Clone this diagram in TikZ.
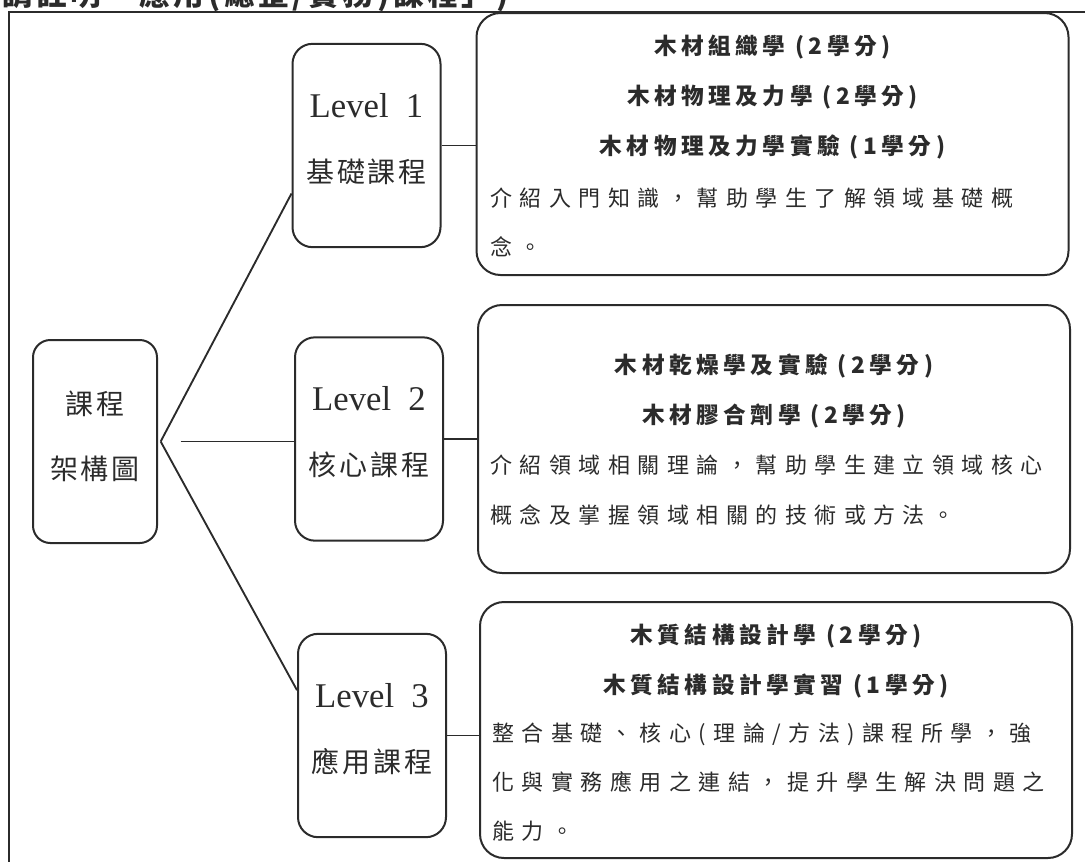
\documentclass[tikz,border=0pt]{standalone}
\usepackage{fontspec}
\setmainfont{Noto Sans CJK TC}
\newfontfamily\levelfont{Liberation Serif}
\usetikzlibrary{positioning, calc}
\definecolor{inkgray}{HTML}{2B2B2B}

\begin{document}
\begin{tikzpicture}[x=0.75pt, y=-0.75pt,
    boxline/.style={draw=inkgray, line width=1.5pt},
    rootbox/.style={boxline, rounded corners=13pt, minimum width=93pt, minimum height=152.25pt},
    levelbox/.style={boxline, rounded corners=15pt, minimum width=111pt, minimum height=152.5pt},
    infobox/.style={boxline, rounded corners=18pt, minimum width=444pt},
    link/.style={draw=inkgray, line width=1.4pt},
    nametext/.style={align=center, text=inkgray, font=\fontsize{21}{48.75}\selectfont\addfontfeature{LetterSpace=10}},
    titletext/.style={align=center, text=inkgray, font=\fontsize{17}{37.5}\selectfont\bfseries\addfontfeature{LetterSpace=20}},
    bodytext/.style={align=left, anchor=west, inner xsep=0pt, text=inkgray, font=\fontsize{16.5}{37}\selectfont\addfontfeature{LetterSpace=34}}]
    \useasboundingbox (0,0) rectangle (1085,861);

    % page header, cut off at the top
    \node[anchor=base west, inner sep=0pt, text=inkgray, font=\fontsize{23}{25}\selectfont\bfseries\addfontfeature{LetterSpace=12}] (header) at (2,5) {請註明「應用(總整/實務)課程」)};
    \draw[draw=inkgray, line width=2pt] (9,12) rectangle (1100,880);

    % left column
    \node[rootbox] (root) at (95,441.5) {};
    \node[nametext] (rootlabel) at (95,436) {課程\\架構圖};

    % levels
    \node[levelbox] (L1) at (366.5,145.5) {};
    \node[levelbox] (L2) at (369,439) {};
    \node[levelbox] (L3) at (372,735.5) {};
    \node[nametext] (L1label) at (366.5,139) {{\levelfont\fontsize{26}{26}\selectfont Level\ \ 1}\\基礎課程};
    \node[nametext] (L2label) at (369,432) {{\levelfont\fontsize{26}{26}\selectfont Level\ \ 2}\\核心課程};
    \node[nametext] (L3label) at (372,729) {{\levelfont\fontsize{26}{26}\selectfont Level\ \ 3}\\應用課程};

    % course boxes
    \node[infobox, minimum height=196.5pt] (B1) at (772.5,144) {};
    \node[infobox, minimum height=201pt] (B2) at (774,439) {};
    \node[infobox, minimum height=192pt] (B3) at (776,730) {};

    \node[titletext] (B1title) at (772.5,97) {木材組織學 (2學分)\\木材物理及力學 (2學分)\\木材物理及力學實驗 (1學分)};
    \node[bodytext] (B1body) at (490,222.5) {介紹入門知識，幫助學生了解領域基礎概\\念。};

    \node[titletext] (B2title) at (774,391) {木材乾燥學及實驗 (2學分)\\木材膠合劑學 (2學分)};
    \node[bodytext] (B2body) at (490,490) {介紹領域相關理論，幫助學生建立領域核心\\概念及掌握領域相關的技術或方法。};

    \node[titletext] (B3title) at (776,661) {木質結構設計學 (2學分)\\木質結構設計學實習 (1學分)};
    \node[bodytext] (B3body) at (492,782) {整合基礎、核心(理論/方法)課程所學，強\\化與實務應用之連結，提升學生解決問題之\\能力。};

    % connectors
    \coordinate (hub) at ([xshift=2pt]root.east);
    \coordinate (hubmid) at ([xshift=17pt]root.east);
    \draw[link] (hub) -- ([yshift=-36pt]L1.west);
    \draw[link] (hubmid) -- (hubmid -| L2.west);
    \draw[link] (hub) -- ([yshift=34pt]L3.west);
    \draw[link] (L1.east) -- (L1.east -| B1.west);
    \draw[link] (L2.east) -- (L2.east -| B2.west);
    \draw[link] (L3.east) -- (L3.east -| B3.west);
\end{tikzpicture}
\end{document}
